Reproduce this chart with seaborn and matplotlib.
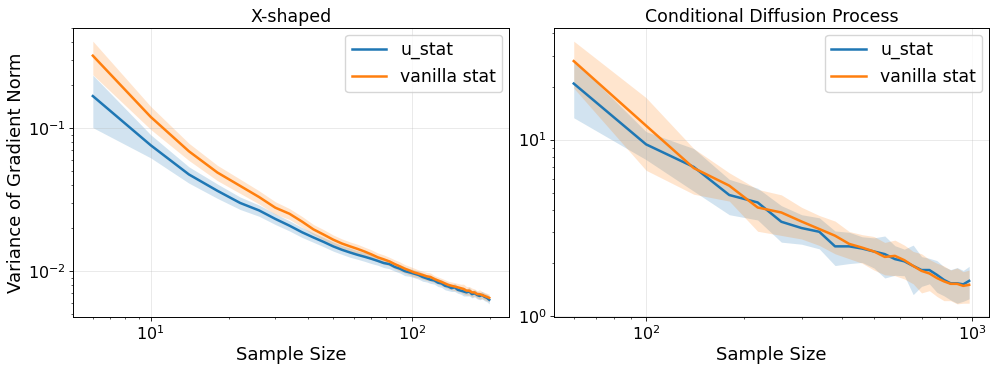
import numpy as np
import pandas as pd
import matplotlib
matplotlib.use('Agg')
import matplotlib.pyplot as plt
import seaborn as sns

# X-shaped panel
x_left = list(range(6, 199, 4))
u_left = [0.168, 0.076, 0.0475, 0.0365, 0.0300, 0.0266, 0.0232, 0.0208, 0.0187, 0.0172,
          0.0160, 0.0149, 0.0141, 0.0135, 0.0130, 0.0126, 0.0122, 0.0118, 0.0114, 0.0112,
          0.0107, 0.0104, 0.0100, 0.0098, 0.0096, 0.0094, 0.0091, 0.0089, 0.0087, 0.0086,
          0.0083, 0.0082, 0.0079, 0.0078, 0.0076, 0.0077, 0.0074, 0.0073, 0.0072, 0.0071,
          0.0072, 0.0069, 0.0070, 0.0068, 0.0067, 0.0068, 0.0066, 0.0065, 0.0063]
u_left_sd = [0.067, 0.014, 0.0062, 0.0042, 0.0030, 0.0024, 0.0020, 0.0017, 0.0015, 0.0013,
             0.0012, 0.0011, 0.0010, 0.0010, 0.0009, 0.0009, 0.0009, 0.0008, 0.0008, 0.0008,
             0.0007, 0.0007, 0.0007, 0.0006, 0.0006, 0.0006, 0.0006, 0.0005, 0.0005, 0.0005,
             0.0005, 0.0005, 0.0005, 0.0005, 0.0004, 0.0005, 0.0004, 0.0004, 0.0005, 0.0004,
             0.0005, 0.0004, 0.0004, 0.0004, 0.0004, 0.0004, 0.0004, 0.0004, 0.0004]
v_left = [0.322, 0.120, 0.069, 0.049, 0.0395, 0.0330, 0.0278, 0.0252, 0.0222, 0.0196,
          0.0180, 0.0166, 0.0156, 0.0149, 0.0143, 0.0137, 0.0131, 0.0125, 0.0121, 0.0117,
          0.0112, 0.0108, 0.0104, 0.0101, 0.0098, 0.0096, 0.0094, 0.0092, 0.0091, 0.0088,
          0.0086, 0.0084, 0.0082, 0.0080, 0.0079, 0.0078, 0.0077, 0.0076, 0.0075, 0.0073,
          0.0073, 0.0071, 0.0071, 0.0069, 0.0069, 0.0068, 0.0067, 0.0066, 0.0065]
v_left_sd = [0.085, 0.022, 0.0095, 0.0060, 0.0045, 0.0035, 0.0028, 0.0022, 0.0019, 0.0016,
             0.0015, 0.0013, 0.0012, 0.0011, 0.0011, 0.0010, 0.0010, 0.0009, 0.0009, 0.0008,
             0.0008, 0.0008, 0.0007, 0.0007, 0.0007, 0.0006, 0.0006, 0.0006, 0.0006, 0.0005,
             0.0005, 0.0005, 0.0005, 0.0005, 0.0005, 0.0005, 0.0005, 0.0005, 0.0006, 0.0005,
             0.0005, 0.0005, 0.0004, 0.0004, 0.0005, 0.0004, 0.0004, 0.0004, 0.0004]

# Conditional Diffusion Process panel
x_right = list(range(60, 981, 40))
u_right = [20.8, 9.4, 7.0, 4.85, 4.4, 3.42, 3.15, 3.0, 2.48, 2.48, 2.41, 2.32,
           2.24, 2.10, 2.04, 1.92, 1.82, 1.82, 1.71, 1.60, 1.53, 1.53, 1.51, 1.58]
u_right_sd = [7.5, 1.7, 1.9, 1.1, 0.9, 0.8, 0.6, 0.6, 0.55, 0.5, 0.4, 0.45,
              0.6, 0.4, 0.35, 0.6, 0.35, 0.3, 0.35, 0.3, 0.3, 0.35, 0.3, 0.33]
v_right = [27.9, 12.0, 6.9, 5.48, 4.12, 3.86, 3.43, 3.11, 2.85, 2.56, 2.44, 2.32,
           2.16, 2.19, 2.07, 1.92, 1.80, 1.74, 1.64, 1.57, 1.52, 1.52, 1.48, 1.50]
v_right_sd = [8.3, 5.3, 2.0, 1.0, 1.1, 1.0, 0.7, 0.6, 0.6, 0.45, 0.45, 0.5,
              0.45, 0.5, 0.45, 0.4, 0.45, 0.35, 0.35, 0.35, 0.3, 0.35, 0.3, 0.32]

labels = ['u_stat', 'vanilla stat']
colors = ['#1f77b4', '#ff7f0e']

# reference looks like a scaled-down render: thinner ticks and tighter pads
plt.rcParams.update({
    'xtick.major.size': 2.6, 'ytick.major.size': 2.6,
    'xtick.minor.size': 1.5, 'ytick.minor.size': 1.5,
    'xtick.major.pad': 2.5, 'ytick.major.pad': 2.5,
    'xtick.major.width': 0.6, 'ytick.major.width': 0.6,
    'xtick.minor.width': 0.45, 'ytick.minor.width': 0.45,
    'axes.linewidth': 0.7,
    'axes.labelpad': 2.5,
    'axes.titlepad': 4.5,
})


def draw_panel(ax, x, series, sds, title):
    frames = []
    for lab, m in zip(labels, series):
        frames.append(pd.DataFrame({'n': x, 'var': m, 'method': lab}))
    df = pd.concat(frames)
    sns.lineplot(data=df, x='n', y='var', hue='method', palette=colors, lw=1.8, ax=ax)
    for m, s, c in zip(series, sds, colors):
        m = np.array(m)
        s = np.array(s)
        ax.fill_between(x, m - s, m + s, color=c, alpha=0.2, lw=0)
    ax.set_xscale('log')
    ax.set_yscale('log')
    ax.grid(True, which='major', alpha=0.3, lw=0.6)
    ax.set_title(title, fontsize=12.5)
    ax.set_xlabel('Sample Size', fontsize=13)
    ax.tick_params(labelsize=11.5)
    ax.legend(loc='upper right', fontsize=12.5, borderpad=0.35, borderaxespad=0.4)


fig = plt.figure(figsize=(9.96, 3.68), dpi=100)
ax1 = fig.add_axes([0.0733, 0.1386, 0.4378, 0.7853])
ax2 = fig.add_axes([0.5562, 0.1386, 0.4367, 0.7853])

draw_panel(ax1, x_left, [u_left, v_left], [u_left_sd, v_left_sd], 'X-shaped')
ax1.set_ylabel('Variance of Gradient Norm', fontsize=13)

draw_panel(ax2, x_right, [u_right, v_right], [u_right_sd, v_right_sd],
           'Conditional Diffusion Process')
ax2.set_ylabel('')

fig.savefig('out.png', dpi=100)
